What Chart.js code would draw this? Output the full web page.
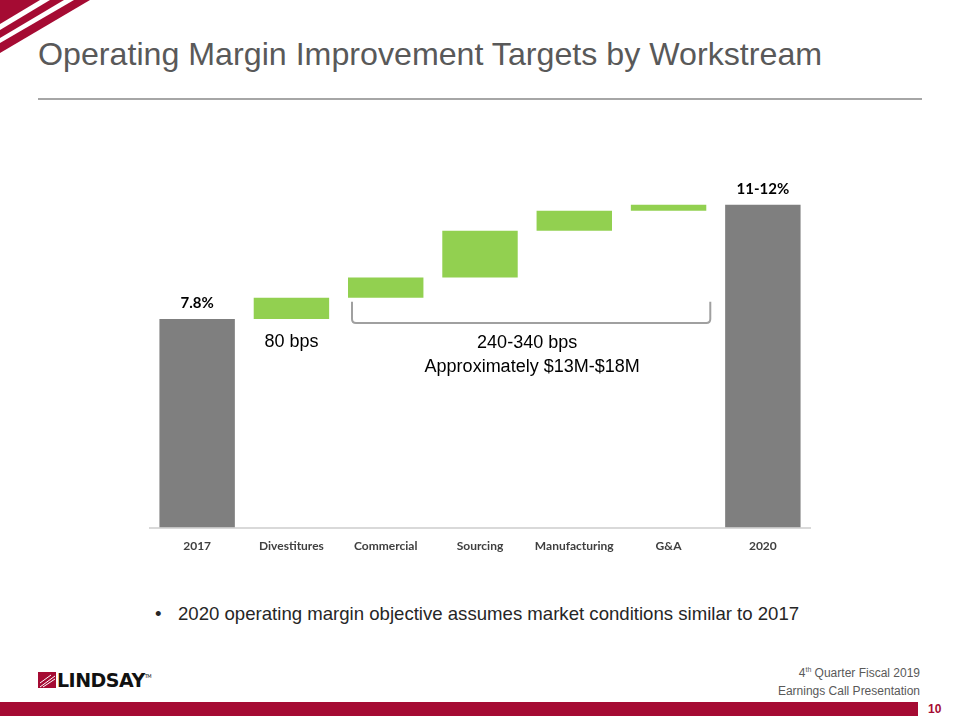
<!DOCTYPE html>
<html>
<head>
<meta charset="utf-8">
<script src="https://cdn.jsdelivr.net/npm/chart.js@4.4.0/dist/chart.umd.min.js"></script>
<style>
  body { margin: 0; background: #fff; font-family: "Liberation Sans", Arial, sans-serif; }
  #page { position: relative; width: 960px; height: 720px; overflow: hidden; }
  #title { position: absolute; left: 38px; top: 36px; font-size: 32.2px; color: #595959; white-space: nowrap; }
  #rule { position: absolute; left: 38px; top: 98px; width: 884px; height: 2px; background: #a6a6a6; }
  #chartBox { position: absolute; left: 140px; top: 150px; }
  #bullet { position: absolute; left: 155px; top: 603px; font-size: 18.6px; color: #262626; white-space: nowrap; }
  #bullet span { display: inline-block; width: 23px; }
  #logo { position: absolute; left: 38px; top: 669px; font-family: "DejaVu Sans", sans-serif; font-weight: bold; font-size: 19px; color: #111; letter-spacing: -0.5px; }
  #logo svg { vertical-align: -1px; margin-right: 1px; }
  #logo sup { font-size: 5px; vertical-align: 9px; font-weight: normal; }
  #foot { position: absolute; right: 40px; top: 661px; text-align: right; font-size: 12px; color: #595959; line-height: 18px; }
  #foot sup { font-size: 7px; }
  #bar { position: absolute; left: 0; top: 702px; width: 918px; height: 14px; background: #a50b33; }
  #num { position: absolute; left: 928px; top: 702px; font-size: 12px; font-weight: bold; color: #a50b33; }
</style>
</head>
<body>
<div id="page">
  <svg style="position:absolute;left:0;top:0" width="100" height="70">
    <polygon points="0,0 40,0 0,24" fill="#a50b33"/>
    <polygon points="50,0 64,0 0,38 0,30" fill="#a50b33"/>
    <polygon points="74,0 90,0 0,53 0,43" fill="#a50b33"/>
  </svg>
  <div id="title">Operating Margin Improvement Targets by Workstream</div>
  <div id="rule"></div>
  <div id="chartBox"><canvas id="chart" width="680" height="406"></canvas></div>
  <div id="bullet"><span>•</span>2020 operating margin objective assumes market conditions similar to 2017</div>
  <div id="logo"><svg width="18" height="16"><rect width="18" height="16" fill="#a50b33"/><path d="M2 15 L17 4 M2 11 L13 3 M5 15 L17 7" stroke="#fff" stroke-width="1"/></svg>LINDSAY<sup>TM</sup></div>
  <div id="foot">4<sup>th</sup> Quarter Fiscal 2019<br>Earnings Call Presentation</div>
  <div id="bar"></div>
  <div id="num">10</div>
</div>
<script>
// waterfall data (operating margin, %)
var categories = ['2017', 'Divestitures', 'Commercial', 'Sourcing', 'Manufacturing', 'G&A', '2020'];
var barStart = [0, 7.8, 8.6, 9.35, 11.1, 11.85, 0];
var barEnd = [7.8, 8.6, 9.35, 11.1, 11.85, 12.07, 12.07];
var totalLabels = ['7.8%', '', '', '', '', '', '11-12%'];

var gray = '#7f7f7f';
var green = '#92d050';

var ranges = categories.map(function (c, i) { return [barStart[i], barEnd[i]]; });
var colors = categories.map(function (c, i) { return barStart[i] === 0 ? gray : green; });

// labels above totals + bracket annotation
var annotate = {
    id: 'annotate',
    afterDatasetsDraw: function (chart) {
        var ctx = chart.ctx;
        var meta = chart.getDatasetMeta(0);
        var x = chart.scales.x, y = chart.scales.y;
        ctx.save();
        ctx.fillStyle = '#000';
        ctx.font = 'bold 15px Lato';
        ctx.textAlign = 'center';
        ctx.textBaseline = 'bottom';
        meta.data.forEach(function (bar, i) {
            if (totalLabels[i]) ctx.fillText(totalLabels[i], bar.x, bar.y - 8);
        });

        ctx.font = '18px "Liberation Sans"';
        ctx.fillStyle = '#000';
        ctx.textBaseline = 'middle';
        ctx.fillText('80 bps', x.getPixelForValue(1), y.getPixelForValue(6.93));
        var mid = (x.getPixelForValue(2) + x.getPixelForValue(5)) / 2;
        ctx.fillText('240-340 bps', mid, y.getPixelForValue(6.9));
        ctx.fillText('Approximately $13M-$18M', mid + 5, y.getPixelForValue(6.0));

        // bracket under the workstream bars
        var l = meta.data[2].x - meta.data[2].width / 2 + 4;
        var r = meta.data[5].x + meta.data[5].width / 2 + 4;
        var t = y.getPixelForValue(8.45), b = y.getPixelForValue(7.65);
        ctx.strokeStyle = '#a0a0a0';
        ctx.lineWidth = 2;
        ctx.beginPath();
        ctx.moveTo(l, t);
        ctx.lineTo(l, b - 4);
        ctx.quadraticCurveTo(l, b, l + 4, b);
        ctx.lineTo(r - 4, b);
        ctx.quadraticCurveTo(r, b, r, b - 4);
        ctx.lineTo(r, t);
        ctx.stroke();
        ctx.restore();
    }
};

new Chart(document.getElementById('chart'), {
    type: 'bar',
    data: {
        labels: categories,
        datasets: [{
            data: ranges,
            backgroundColor: colors,
            borderWidth: 0,
            barPercentage: 0.8,
            categoryPercentage: 1
        }]
    },
    options: {
        responsive: false,
        animation: false,
        layout: { padding: { top: 30, left: 10, right: 10, bottom: 0 } },
        plugins: { legend: { display: false }, tooltip: { enabled: false } },
        scales: {
            x: {
                grid: { display: false },
                border: { display: true, color: '#d9d9d9', width: 2 },
                ticks: { color: '#404040', font: { family: 'Lato', weight: 'bold', size: 12 }, padding: 3, maxRotation: 0 }
            },
            y: { display: false, min: 0, max: 13 }
        }
    },
    plugins: [annotate]
});
</script>
</body>
</html>
